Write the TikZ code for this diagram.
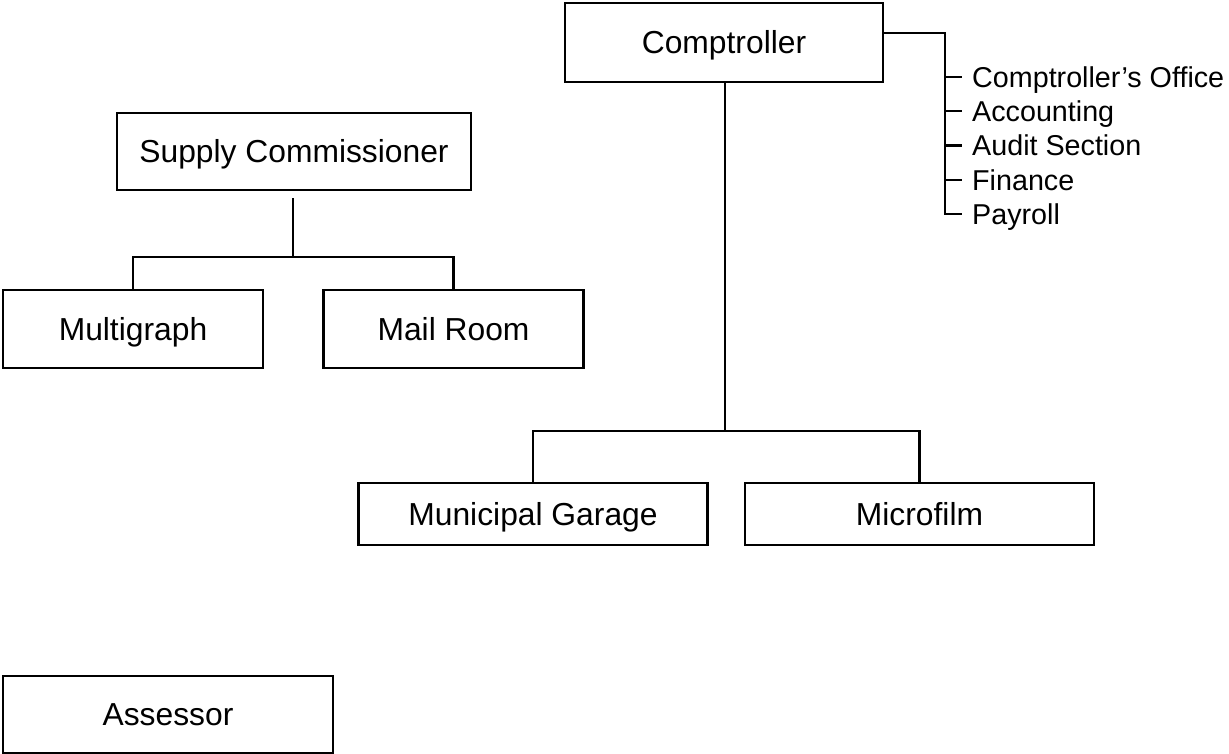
\documentclass[tikz,border=0pt]{standalone}
\usepackage{fontspec}
\setmainfont{Liberation Sans}

\tikzstyle{unit}=[draw,line width=2.6pt,rectangle,inner sep=0pt,font=\fontsize{31.8}{38}\selectfont,text height=22.8pt,text depth=0pt]
\tikzstyle{link}=[draw,line width=2.6pt,-]
\tikzstyle{item}=[anchor=west,inner xsep=10pt,inner ysep=0pt,font=\fontsize{28.7}{34}\selectfont,text height=20.6pt,text depth=0pt]

\begin{document}
\begin{tikzpicture}[x=1pt,y=-1pt]
    \useasboundingbox (0,0) rectangle (1229,754);
    % First we draw the boxes
    \node[unit,minimum width=318,minimum height=79] (comp) at (724,42.5) {Comptroller};
    \node[unit,minimum width=354,minimum height=77] (supply) at (294,151.5) {Supply Commissioner};
    \foreach \pos/\name/\text in {{(133,329)/multi/Multigraph}, {(453.5,329)/mail/Mail Room}}
        \node[unit,minimum width=260,minimum height=78] (\name) at \pos {\text};
    \foreach \pos/\name/\text in {{(533,514)/garage/Municipal Garage}, {(919.5,514)/micro/Microfilm}}
        \node[unit,minimum width=349,minimum height=62] (\name) at \pos {\text};
    \node[unit,minimum width=330,minimum height=77] (assessor) at (168,714.5) {Assessor};

    % Offices listed beside the comptroller
    \foreach \i/\y/\text in {1/77/Comptroller’s Office, 2/111/Accounting, 3/145.5/Audit Section, 4/180/Finance, 5/214/Payroll}
        \node[item] (o\i) at (962,\y) {\text};

    % Connect boxes
    \coordinate (cjoin) at (725,431);
    \coordinate (sjoin) at (293,257);
    \coordinate (rtop) at (945,33);
    \path[link] (comp.south -| cjoin) -- (cjoin);
    \path[link] (garage.north) |- (cjoin) -| (micro.north);
    \path[link, shorten <=7pt] (supply.south -| sjoin) -- (sjoin);
    \path[link] (multi.north) |- (sjoin) -| (mail.north);
    \path[link] (rtop -| comp.east) -- (rtop) |- (o5.west);
    \foreach \i in {1,...,4}
        \path[link] (rtop |- o\i.west) -- (o\i.west);
\end{tikzpicture}
\end{document}
